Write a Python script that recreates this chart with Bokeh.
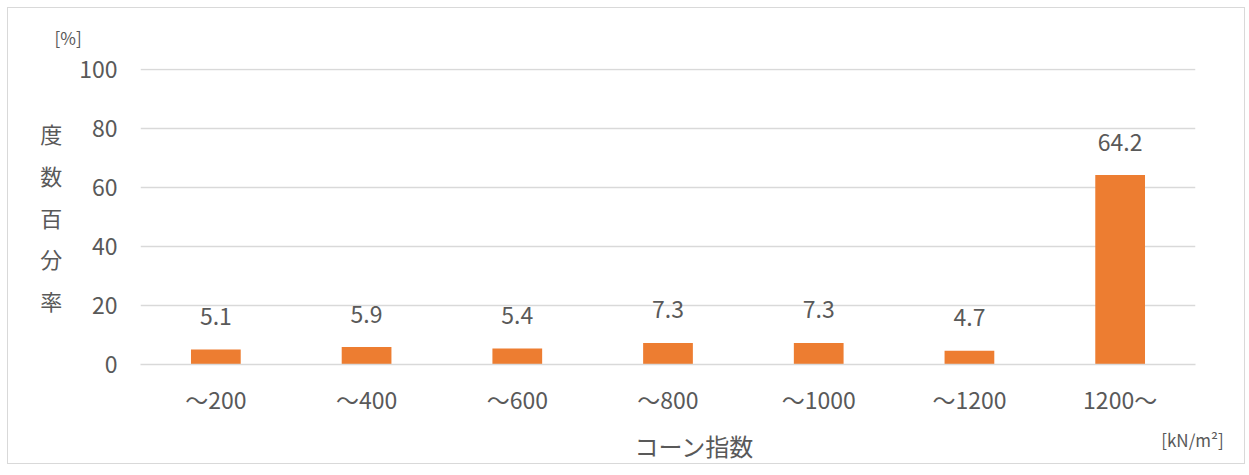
from bokeh.plotting import figure
from bokeh.models import ColumnDataSource, FixedTicker, Title, Range1d, LinearAxis
from bokeh.core.properties import value
from bokeh.embed import file_html
from bokeh.resources import INLINE

# Cone index classes and their share of measurements (%)
categories = ["～200", "～400", "～600", "～800", "～1000", "～1200", "1200～"]
percent = [5.1, 5.9, 5.4, 7.3, 7.3, 4.7, 64.2]
y_ticks = [0, 20, 40, 60, 80, 100]

FONT = "Noto Sans CJK JP"
TEXT = "#595959"
GRID = "#D9D9D9"
BAR = "#ED7D31"

FRAME_W = 1055  # width of the plotting area in pixels

idx = list(range(len(categories)))
src = ColumnDataSource(dict(x=idx, pct=percent,
                            lbl=[f"{v:.1f}" for v in percent]))

p = figure(width=1238, height=457,
           x_range=Range1d(-0.5, len(categories) - 0.5), y_range=Range1d(0, 100.34),
           output_backend="svg", toolbar_location=None,
           min_border_left=132, min_border_right=51,
           min_border_top=60, min_border_bottom=101)
p.margin = (7, 0, 0, 7)
p.styles = {"border": "1px solid #D9D9D9"}
p.outline_line_color = None
p.background_fill_color = "white"
p.border_fill_color = "white"

p.vbar(x="x", top="pct", width=0.33, source=src, fill_color=BAR, line_color=None)
p.text(x="x", y="pct", text="lbl", source=src, text_align="center",
       text_baseline="middle", y_offset=-33, text_font_size="23px",
       text_color=TEXT, text_font=value(FONT))

# y axis: bare tick labels, title stacked one character per line
p.yaxis.ticker = FixedTicker(ticks=y_ticks)
p.yaxis.axis_line_color = None
p.yaxis.major_tick_line_color = None
p.yaxis.minor_tick_line_color = None
p.yaxis.major_label_standoff = 17
p.yaxis.major_label_text_font = FONT
p.yaxis.major_label_text_font_size = "23px"
p.yaxis.major_label_text_color = TEXT
p.yaxis.axis_label = "\n".join("度数百分率")
p.yaxis.axis_label_orientation = "horizontal"
p.yaxis.axis_label_text_line_height = 1.30
p.yaxis.axis_label_text_font = FONT
p.yaxis.axis_label_text_font_size = "22px"
p.yaxis.axis_label_text_font_style = "normal"
p.yaxis.axis_label_text_color = TEXT
p.yaxis.axis_label_standoff = 14

# x axis with category labels
p.xaxis.ticker = FixedTicker(ticks=idx)
p.xaxis.major_label_overrides = dict(zip(idx, categories))
p.xaxis.axis_line_color = GRID
p.xaxis.axis_line_width = 1.5
p.xaxis.major_tick_line_color = None
p.xaxis.minor_tick_line_color = None
p.xaxis.major_tick_out = 0
p.xaxis.major_label_standoff = 17
p.xaxis.major_label_text_font = FONT
p.xaxis.major_label_text_font_size = "23px"
p.xaxis.major_label_text_color = TEXT

p.xgrid.grid_line_color = None
p.ygrid.grid_line_color = GRID
p.ygrid.grid_line_width = 1.5

# caption row under the category labels: unit on the right, axis name near
# the middle, both set on tick-less helper axes spanning the plot width
p.extra_x_ranges = {"caption": Range1d(0, FRAME_W)}
unit_pos, name_pos = 1052, 554


def caption_axis(pos, text, size, standoff):
    ax = LinearAxis(x_range_name="caption", ticker=FixedTicker(ticks=[pos]),
                    major_label_overrides={pos: text},
                    major_label_standoff=standoff, major_tick_out=0,
                    major_label_text_font=FONT, major_label_text_font_size=size,
                    major_label_text_color=TEXT, axis_line_color=None,
                    major_tick_line_color=None, minor_tick_line_color=None)
    p.add_layout(ax, "below")


caption_axis(unit_pos, "[kN/m²]", "17px", 8)
caption_axis(name_pos, "コーン指数", "24px", -27)

# unit of the value axis
p.add_layout(Title(text="[%]", align="left", vertical_align="top",
                   offset=-86, standoff=33,
                   text_font=FONT, text_font_size="17px",
                   text_font_style="normal", text_color=TEXT), "above")

open("out.html", "w").write(file_html(p, INLINE))
